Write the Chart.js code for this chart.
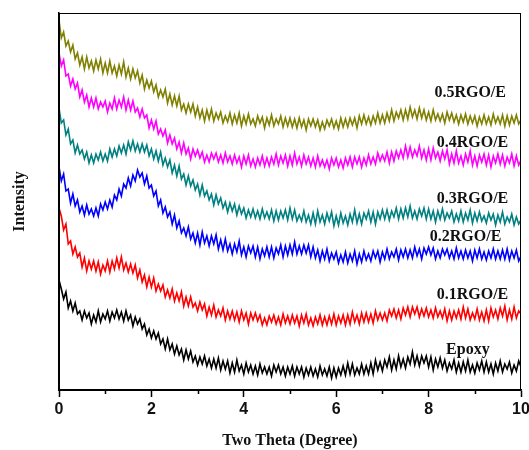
<!DOCTYPE html>
<html>
<head>
<meta charset="utf-8">
<script src="https://cdn.jsdelivr.net/npm/chart.js@4.4.0/dist/chart.umd.min.js"></script>
<style>
  html, body { margin: 0; padding: 0; background: #fff; }
  #wrap { width: 529px; height: 450px; }
</style>
</head>
<body>
<div id="wrap"><canvas id="xrd" width="529" height="450"></canvas></div>
<script>
// 2-theta scan positions (degree)
var twoTheta = [
  0,0.05,0.1,0.15,0.2,0.25,0.3,0.35,0.4,0.45,0.5,0.55,0.6,0.65,0.7,0.75,0.8,0.85,0.9,0.95,
  1,1.05,1.1,1.15,1.2,1.25,1.3,1.35,1.4,1.45,1.5,1.55,1.6,1.65,1.7,1.75,1.8,1.85,1.9,1.95,
  2,2.05,2.1,2.15,2.2,2.25,2.3,2.35,2.4,2.45,2.5,2.55,2.6,2.65,2.7,2.75,2.8,2.85,2.9,2.95,
  3,3.05,3.1,3.15,3.2,3.25,3.3,3.35,3.4,3.45,3.5,3.55,3.6,3.65,3.7,3.75,3.8,3.85,3.9,3.95,
  4,4.05,4.1,4.15,4.2,4.25,4.3,4.35,4.4,4.45,4.5,4.55,4.6,4.65,4.7,4.75,4.8,4.85,4.9,4.95,
  5,5.05,5.1,5.15,5.2,5.25,5.3,5.35,5.4,5.45,5.5,5.55,5.6,5.65,5.7,5.75,5.8,5.85,5.9,5.95,
  6,6.05,6.1,6.15,6.2,6.25,6.3,6.35,6.4,6.45,6.5,6.55,6.6,6.65,6.7,6.75,6.8,6.85,6.9,6.95,
  7,7.05,7.1,7.15,7.2,7.25,7.3,7.35,7.4,7.45,7.5,7.55,7.6,7.65,7.7,7.75,7.8,7.85,7.9,7.95,
  8,8.05,8.1,8.15,8.2,8.25,8.3,8.35,8.4,8.45,8.5,8.55,8.6,8.65,8.7,8.75,8.8,8.85,8.9,8.95,
  9,9.05,9.1,9.15,9.2,9.25,9.3,9.35,9.4,9.45,9.5,9.55,9.6,9.65,9.7,9.75,9.8,9.85,9.9,9.95,
  10
];
var majorTicks = [0, 2, 4, 6, 8, 10];
var minorTicks = [1, 3, 5, 7, 9];

// intensities (a.u., stacked/offset as in the figure)
var rgo05 = [
  370,352,358,344,349, 338,345,331,337,325, 333,321,333,322,329, 319,330,321,331,317,
  327,317,329,317,324, 314,325,316,328,313, 322,311,321,312,319, 307,315,301,310,302,
  309,298,305,293,300, 293,301,287,296,285, 294,284,294,280,286, 277,286,278,286,274,
  283,272,280,269,280, 271,281,269,277,271, 278,267,274,268,277, 266,275,267,277,264,
  274,266,276,266,271, 264,274,267,273,262, 272,265,275,264,271, 266,274,263,272,264,
  272,263,271,262,272, 263,270,260,271,264, 271,263,270,260,268, 261,270,264,271,262,
  269,261,272,263,271, 263,272,265,272,262, 274,266,275,266,273, 265,274,267,277,267,
  275,267,277,269,280, 269,278,272,280,270, 280,271,283,273,280, 271,282,272,280,270,
  278,269,280,270,276, 269,276,267,278,270, 277,268,275,266,275, 268,276,266,274,267,
  274,264,273,266,275, 266,273,265,276,267, 273,266,275,264,274, 265,274,267,275,266,
  270
];
var rgo04 = [
  337,324,330,314,316, 304,311,301,307,293, 300,288,295,283,292, 283,292,281,288,283,
  289,278,287,281,292, 281,290,283,293,280, 290,280,289,278,282, 273,281,272,275,262,
  270,261,269,256,261, 254,260,247,255,246, 252,241,248,237,247, 236,242,231,241,234,
  240,232,238,228,235, 228,237,231,237,228, 235,227,237,228,234, 226,235,227,233,223,
  234,226,235,224,231, 223,232,225,234,224, 232,224,233,226,236, 225,234,227,235,224,
  234,225,237,226,233, 224,235,226,233,224, 232,223,234,224,230, 223,230,221,232,225,
  232,223,230,222,232, 225,233,223,233,226, 233,223,232,225,235, 226,233,226,237,229,
  235,229,238,227,238, 229,239,232,240,232, 244,233,243,233,240, 234,244,232,240,230,
  241,230,242,232,238, 229,239,231,240,226, 236,227,239,227,234, 225,236,228,239,225,
  234,224,235,228,236, 225,235,223,234,227, 236,226,235,224,233, 227,236,224,234,225,
  230
];
var rgo03 = [
  282,267,270,255,261, 246,250,237,245,236, 240,231,238,227,235, 227,236,230,238,229,
  236,229,241,233,241, 234,244,237,245,236, 248,240,249,239,246, 238,246,238,245,234,
  241,231,239,229,238, 225,232,223,230,217, 225,214,224,211,216, 205,214,204,210,200,
  206,195,205,194,199, 190,196,185,195,186, 192,182,188,178,187, 179,186,175,184,176,
  182,172,180,173,181, 172,179,171,181,172, 178,171,180,169,179, 170,179,172,180,170,
  182,171,180,169,175, 169,179,168,175,166, 177,166,179,168,175, 166,177,169,178,164,
  174,165,177,167,174, 165,176,168,180,167, 176,166,177,171,179, 168,178,166,178,171,
  180,171,180,170,179, 173,182,171,181,172, 182,173,184,172,179, 171,181,174,182,171,
  181,171,179,168,179, 171,181,170,177,172, 179,168,176,169,179, 168,177,170,180,167,
  177,169,178,169,174, 167,177,170,176,165, 175,168,178,166,173, 168,176,165,173,166,
  170
];
var rgo02 = [
  223,209,216,199,201, 187,196,184,190,178, 184,175,185,176,181, 174,182,174,186,180,
  188,181,190,183,195, 190,201,194,206,202, 212,204,215,209,220, 213,217,206,214,202,
  205,194,199,184,190, 177,183,173,178,166, 175,162,169,157,162, 154,163,151,157,147,
  157,145,158,147,154, 144,154,146,155,141, 150,140,151,139,146, 136,146,138,149,135,
  143,133,144,137,144, 133,143,131,141,134, 143,133,143,132,142, 136,145,133,144,135,
  145,136,148,136,144, 136,145,137,145,133, 143,132,140,129,139, 131,141,129,137,131,
  138,127,135,128,138, 127,136,129,139,126, 136,128,139,130,136, 129,139,132,139,128,
  138,131,141,131,138, 133,141,130,140,133, 141,132,140,132,143, 134,141,131,142,136,
  143,135,142,131,139, 132,141,135,141,132, 139,131,142,132,139, 131,140,132,139,129,
  140,132,141,131,138, 130,139,132,141,131, 139,131,140,131,141, 130,139,132,140,129,
  134
];
var rgo01 = [
  182,174,160,166,146, 149,136,143,133,137, 123,132,119,129,121, 129,119,128,116,125,
  119,129,118,129,121, 132,122,133,120,127, 118,126,117,125,112, 120,108,115,103,113,
  103,112,99,106,99, 105,93,100,92,101, 89,97,89,98,84, 93,84,93,83,87,
  79,88,80,86,74, 83,75,85,73,80, 74,82,70,79,71, 79,70,78,68,79,
  70,77,66,77,70, 77,69,75,65,72, 65,74,68,75,66, 73,65,76,67,74,
  66,75,67,74,64, 75,67,76,65,72, 64,73,66,75,65, 73,65,74,66,76,
  65,74,67,75,65, 75,66,78,68,75, 66,77,68,77,68, 76,67,79,70,77,
  70,77,69,80,74, 81,72,80,71,82, 75,83,73,83,76, 83,73,81,74,82,
  73,80,72,82,73, 79,72,81,69,79, 70,79,72,80,71, 83,72,81,70,77,
  71,81,70,78,69, 80,69,82,73,80, 71,82,74,84,70, 80,71,83,72,79,
  76
];
var epoxy = [
  110,101,91,98,82, 89,79,87,76,79, 70,79,72,77,66, 75,68,79,68,76,
  71,79,69,78,72, 80,71,78,69,79, 70,75,64,73,66, 71,61,66,55,61,
  52,59,51,57,46, 51,41,51,40,46, 36,44,35,41,30, 40,31,39,28,34,
  25,33,26,34,24, 31,22,31,22,32, 20,29,21,29,17, 27,18,30,19,25,
  16,27,18,25,16, 24,15,26,17,23, 16,23,14,25,18, 25,16,23,14,23,
  16,24,14,23,16, 23,13,22,15,23, 14,21,13,24,15, 21,14,23,12,22,
  13,22,15,24,15, 27,16,26,15,22, 16,26,16,24,16, 27,16,30,20,28,
  19,30,23,33,20, 30,21,34,23,31, 22,33,26,38,25, 34,24,34,27,34,
  23,33,20,31,23, 32,22,30,19,27, 21,30,18,27,18, 28,19,30,18,25,
  17,27,20,29,18, 28,18,26,16,27, 19,29,18,26,21, 28,17,25,19,29,
  23
];

var sampleNames = ['0.5RGO/E', '0.4RGO/E', '0.3RGO/E', '0.2RGO/E', '0.1RGO/E', 'Epoxy'];
var sampleData = [rgo05, rgo04, rgo03, rgo02, rgo01, epoxy];
var sampleColors = ['#808000', '#ff00ff', '#008080', '#0000ff', '#ff0000', '#000000'];
// where each curve name sits (two theta, intensity)
var labelTheta = [8.9, 8.95, 8.95, 8.8, 8.95, 8.85];
var labelLevel = [297, 247, 191, 153, 95, 40];

var datasets = sampleNames.map(function (name, i) {
    return {
        label: name,
        data: sampleData[i].map(function (v, j) { return { x: twoTheta[j], y: v }; }),
        borderColor: sampleColors[i],
        borderWidth: 1.6,
        pointRadius: 0,
        tension: 0,
        fill: false
    };
});

var serif = "'Liberation Serif', 'Times New Roman', serif";

var curveLabels = {
    id: 'curveLabels',
    afterDatasetsDraw: function (chart) {
        var ctx = chart.ctx;
        var xs = chart.scales.x, ys = chart.scales.y;
        ctx.save();
        ctx.font = 'bold 16px ' + serif;
        ctx.fillStyle = '#111';
        ctx.textAlign = 'center';
        ctx.textBaseline = 'middle';
        sampleNames.forEach(function (name, i) {
            ctx.fillText(name, xs.getPixelForValue(labelTheta[i]), ys.getPixelForValue(labelLevel[i]));
        });
        ctx.restore();
    }
};

// box round the plot + short minor ticks on the x axis
var frame = {
    id: 'frame',
    afterDraw: function (chart) {
        var a = chart.chartArea, ctx = chart.ctx, xs = chart.scales.x;
        ctx.save();
        ctx.strokeStyle = '#000';
        ctx.lineWidth = 1;
        ctx.strokeRect(a.left + 0.5, a.top + 0.5, a.right - a.left - 1, a.bottom - a.top);
        ctx.lineWidth = 1.5;
        ctx.beginPath();
        minorTicks.forEach(function (t) {
            var px = Math.round(xs.getPixelForValue(t)) + 0.5;
            ctx.moveTo(px, a.bottom);
            ctx.lineTo(px, a.bottom + 4);
        });
        ctx.stroke();
        ctx.restore();
    }
};

new Chart(document.getElementById('xrd').getContext('2d'), {
    type: 'line',
    data: { datasets: datasets },
    options: {
        responsive: false,
        animation: false,
        layout: { padding: { left: 0, right: 8, top: 13, bottom: 0 } },
        plugins: {
            legend: { display: false },
            tooltip: { enabled: false }
        },
        scales: {
            x: {
                type: 'linear',
                min: 0,
                max: 10,
                afterFit: function (scale) {
                    scale.height = 60;
                    scale.paddingLeft = 0;
                    scale.paddingRight = 0;
                },
                afterBuildTicks: function (scale) {
                    scale.ticks = majorTicks.map(function (v) { return { value: v }; });
                },
                border: { display: true, color: '#000', width: 1.5 },
                grid: { drawOnChartArea: false, drawTicks: true, tickLength: 7, tickColor: '#000', tickWidth: 1.5 },
                ticks: {
                    padding: 3,
                    color: '#111',
                    font: { family: "'Liberation Sans', Arial, sans-serif", size: 16, weight: 'bold' }
                },
                title: {
                    display: true,
                    text: 'Two Theta (Degree)',
                    color: '#111',
                    padding: { top: 4, bottom: 0 },
                    font: { family: serif, size: 16, weight: 'bold' }
                }
            },
            y: {
                min: 0,
                max: 377,
                afterFit: function (scale) { scale.width = 59; },
                border: { display: true, color: '#000', width: 1.5 },
                grid: { display: false },
                ticks: { display: false },
                title: {
                    display: true,
                    text: 'Intensity',
                    color: '#111',
                    padding: { top: 10, bottom: 0 },
                    font: { family: serif, size: 16, weight: 'bold' }
                }
            }
        }
    },
    plugins: [curveLabels, frame]
});
</script>
</body>
</html>
